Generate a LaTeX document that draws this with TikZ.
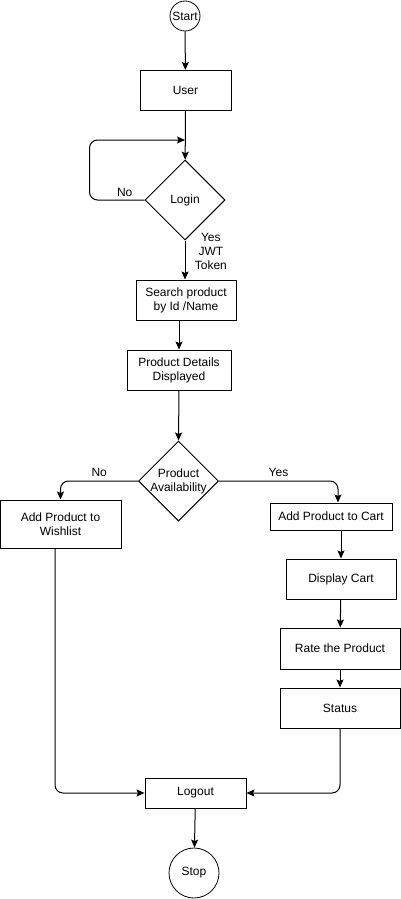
\documentclass[tikz,border=0pt]{standalone}
\usepackage{fontspec}
\setmainfont{Liberation Sans}
\usetikzlibrary{shapes,arrows,positioning,shapes.geometric,arrows.meta}

\begin{document}
\begin{tikzpicture}[x=1pt,y=-1pt,font=\fontsize{12}{14}\selectfont]
    \tikzstyle{block} = [rectangle, draw, line width=1pt, inner sep=0pt,
               text centered, align=center]
    \tikzstyle{decision} = [diamond, draw, line width=1pt, inner sep=0pt,
               minimum width=80pt, minimum height=80pt, align=center]
    \tikzstyle{terminal} = [circle, draw, line width=0.8pt, inner sep=0pt]
    \tikzstyle{line} = [draw, line width=1pt,
               -{Stealth[length=8pt, width=7pt, inset=1.5pt]}]

    \useasboundingbox (0,0) rectangle (401,899);

    % Define nodes
    \node [terminal, minimum size=30pt] (start) at (185,16) {Start};
    \node [block, minimum width=91pt, minimum height=40pt] (user) at (185.5,90.5) {User};
    \node [decision] (login) at (185,200) {Login};
    \node [block, minimum width=100pt, minimum height=40pt] (search) at (186,300)
      {Search product\\ by Id /Name};
    \node [block, minimum width=104pt, minimum height=40pt] (details) at (179,370)
      {Product Details\\Displayed};
    \node [decision, label={[align=center]center:Product\\Availability}] (avail)
      at (178.5,481) {};
    \node [block, minimum width=121pt, minimum height=48pt] (wish) at (60.5,524)
      {Add Product to\\Wishlist};
    \node [block, minimum width=122pt, minimum height=27pt] (cart) at (331,516.5)
      {Add Product to Cart};
    \node [block, minimum width=110pt, minimum height=40pt] (display) at (341,579)
      {Display Cart};
    \node [block, minimum width=120pt, minimum height=41pt] (rate) at (340,648.5)
      {Rate the Product};
    \node [block, minimum width=120pt, minimum height=40pt] (status) at (340,708)
      {Status};
    \node [block, minimum width=101pt, minimum height=30pt] (logout) at (195.5,793)
      {Logout};
    \node [terminal, minimum size=50pt] (stop) at (194,873) {Stop};

    \coordinate (loop) at (185,140);

    % Connectors
    \draw [line] (start) -- (user);
    \draw [line] (user) -- (login);
    \draw [line, rounded corners=8pt] (login.west) -- node[pos=0.36, above] (nolbl) {No}
      ++(-55,0) |- (loop);
    \draw [line] (login.south) -- node[pos=0.28, right, xshift=6pt, align=center] (yeslbl)
      {Yes\\JWT\\Token} (search.north -| login.south);
    \draw [line] (details.north |- search.south) -- (details.north);
    \draw [line] (details.south) -- (avail.north);
    \draw [line, rounded corners=8pt] (avail.west) -| node[pos=0.25, above, yshift=1pt] (nolbl2)
      {No} (wish.north);
    \draw [line, rounded corners=8pt] (avail.east) -| node[pos=0.25, above, yshift=1pt] (yeslbl2)
      {Yes} ([xshift=7pt]cart.north);
    \draw [line] (display.north |- cart.south) -- (display.north);
    \draw [line] (display) -- (rate);
    \draw [line] (rate) -- (status);
    \draw [line, rounded corners=8pt] ([xshift=-5.5pt]wish.south) |- (logout.west);
    \draw [line, rounded corners=8pt] (status.south) |- (logout.east);
    \draw [line] (logout) -- (stop);

  \end{tikzpicture}
\end{document}
